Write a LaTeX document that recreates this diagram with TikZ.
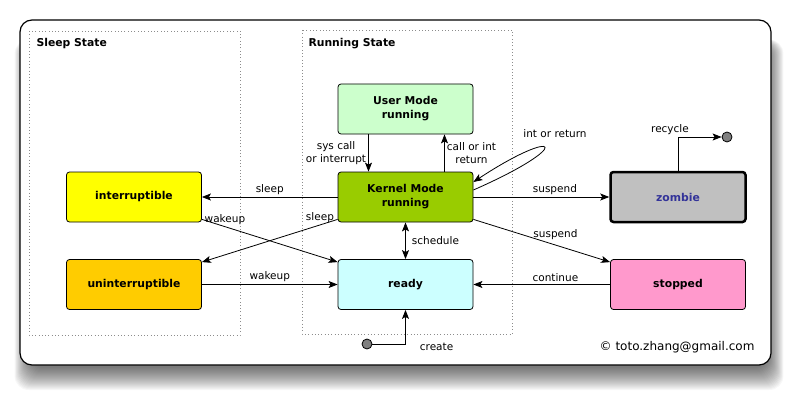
\documentclass[tikz,border=0pt]{standalone}
\usepackage{fontspec}
\setmainfont{DejaVu Sans}
\usetikzlibrary{arrows.meta}

\definecolor{vertclair}{HTML}{CCFFCC}
\definecolor{vertnoyau}{HTML}{99CC00}
\definecolor{jaune}{HTML}{FFFF00}
\definecolor{orange}{HTML}{FFCC00}
\definecolor{cyanclair}{HTML}{CCFFFF}
\definecolor{rose}{HTML}{FF99CC}
\definecolor{grisz}{HTML}{C0C0C0}
\definecolor{bleuz}{HTML}{333399}

\tikzset{
    etat/.style={draw, line width=0.8pt, rounded corners=3pt, minimum width=135pt, minimum height=50pt,
        align=center, font=\fontsize{10.8}{14}\selectfont\bfseries},
    pointe/.tip={Stealth[length=9pt,width=7pt,inset=2pt]},
    fleche/.style={line width=0.8pt, -pointe},
    etiq/.style={font=\fontsize{10.5}{13}\selectfont, inner sep=2pt, align=center},
    zone/.style={draw=gray!90, line width=0.7pt, dash pattern=on 0.7pt off 2.6pt},
    titre/.style={font=\fontsize{10.8}{12}\selectfont\bfseries, anchor=west},
    rond/.style={circle, draw, line width=0.8pt, fill=gray, minimum size=10pt, inner sep=0pt}
}

\begin{document}
\begin{tikzpicture}[x=1pt, y=-1pt]
    \useasboundingbox (0,0) rectangle (791,401);

    % Ombre portée du cadre (couches superposées)
    \foreach \i in {0,...,22}
        \fill[black, opacity=0.03, rounded corners=14pt] (30-0.7*\i,44-0.2*\i) rectangle (768+0.7*\i,368+\i);

    % Cadre principal
    \draw[line width=1.2pt, rounded corners=12pt, fill=white] (20,20) rectangle (771,365);

    % Zones en pointillés
    \draw[zone] (29,31) rectangle (240,335);
    \draw[zone] (302,30) rectangle (512,334);
    \node[titre] (sleeptitle) at (33,44) {Sleep State};
    \node[titre] (runtitle) at (305,44) {Running State};

    % Les états
    \node[etat, fill=vertclair] (user) at (405.5,109) {User Mode\\running};
    \node[etat, fill=vertnoyau] (kernel) at (405.5,197) {Kernel Mode\\running};
    \node[etat, fill=jaune] (interr) at (134,197) {interruptible};
    \node[etat, fill=orange] (uninterr) at (134,284.5) {uninterruptible};
    \node[etat, fill=cyanclair] (ready) at (405.5,284.5) {ready};
    \node[etat, fill=grisz, line width=2.5pt, text=bleuz] (zombie) at (678,197) {zombie};
    \node[etat, fill=rose] (stopped) at (678,284.5) {stopped};

    % Début et fin
    \node[rond] (debut) at (367,344) {};
    \node[rond] (fin) at (727,137) {};

    % Transitions entre user et kernel
    \draw[fleche] ([xshift=-37pt]user.south) -- node[etiq, left] {sys call\\or interrupt} ([xshift=-37pt]kernel.north);
    \draw[fleche] ([xshift=39pt]kernel.north) -- node[etiq, right] {call or int\\return} ([xshift=39pt]user.south);
    \draw[fleche] ([yshift=7pt]kernel.east) .. controls (576,145) and (560,125) .. ([yshift=15pt]kernel.east);
    \node[etiq] (intret) at (555,134) {int or return};

    % Vers l'état de sommeil
    \draw[fleche] (kernel.west) -- node[etiq, above] {sleep} (interr.east);
    \draw[fleche] ([yshift=3pt]kernel.south west) -- node[etiq, above, pos=0.13] {sleep} ([yshift=-3pt]uninterr.north east);
    \draw[fleche] ([yshift=3pt]interr.south east) -- node[etiq, above, pos=0.17] {wakeup} ([yshift=-3pt]ready.north west);
    \draw[fleche] (uninterr.east) -- node[etiq, above] {wakeup} (ready.west);

    % Ordonnancement
    \draw[line width=0.8pt, pointe-pointe] (kernel.south) -- node[etiq, right, xshift=4pt] {schedule} (ready.north);

    % Suspension et reprise
    \draw[fleche] (kernel.east) -- node[etiq, above, pos=0.6] {suspend} (zombie.west);
    \draw[fleche] ([yshift=3pt]kernel.south east) -- node[etiq, above=3pt, pos=0.6] {suspend} ([yshift=-3pt]stopped.north west);
    \draw[fleche] (stopped.west) -- node[etiq, above, pos=0.4] {continue} (ready.east);

    % Création et recyclage
    \draw[fleche] (debut) -| node[etiq, pos=0.5, anchor=west, xshift=12pt, yshift=-3pt] {create} (ready.south);
    \draw[fleche] (zombie.north) |- node[etiq, above, pos=0.5, xshift=-8pt] {recycle} (fin);

    % Signature
    \node[font=\fontsize{12}{14}\selectfont, anchor=east] (copyright) at (758,347) {© toto.zhang@gmail.com};
\end{tikzpicture}
\end{document}
